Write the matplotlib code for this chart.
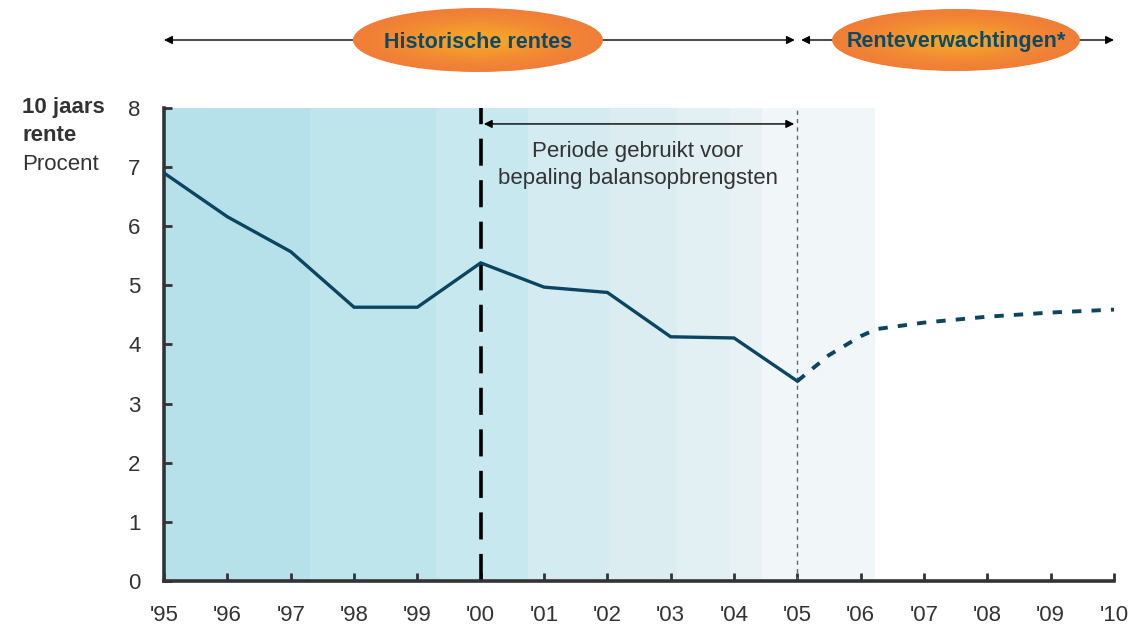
import numpy as np
import matplotlib.pyplot as plt
from matplotlib.patches import Ellipse

plt.rcParams['font.family'] = ['Liberation Sans', 'DejaVu Sans']

# historical 10-year rate, 1995..2005
hist_years = [1995, 1996, 1997, 1998, 1999, 2000, 2001, 2002, 2003, 2004, 2005]
hist_rate = [6.90, 6.16, 5.57, 4.63, 4.63, 5.38, 4.97, 4.88, 4.13, 4.11, 3.38]

# expected rate (dashed)
exp_years = [2005, 2005.5, 2006, 2006.25, 2007, 2008, 2009, 2010]
exp_rate = [3.38, 3.82, 4.14, 4.26, 4.37, 4.47, 4.54, 4.59]

# background bands (fading blue)
band_edges = [1995, 1997.31, 1999.29, 2000.75, 2002.04, 2003.10, 2003.94, 2004.44, 2006.23]
band_colors = ['#b6e1ea', '#bee4ec', '#c7e8ef', '#d3ebf1', '#dcedf2', '#e2eff3', '#e8f1f4', '#f1f7f8']

tick_years = list(range(1995, 2011))
tick_labels = ["'%02d" % (y % 100) for y in tick_years]

line_color = '#0b4560'
text_color = '#333333'

fig = plt.figure(figsize=(11.29, 6.27), dpi=100)
ax = fig.add_axes([0.1453, 0.0734, 0.8414, 0.7544])

for i, c in enumerate(band_colors):
    ax.axvspan(band_edges[i], band_edges[i + 1], ymin=0, ymax=1, color=c, lw=0, zorder=0)

ax.axvline(2000, color='black', lw=2.6, linestyle=(0, (7.5, 4)), zorder=2)
ax.axvline(2005, color='#666666', lw=1.0, linestyle=(0, (3, 3)), zorder=2)

ax.plot(hist_years, hist_rate, color=line_color, lw=2.4, zorder=3, solid_joinstyle='miter')
ax.plot(exp_years, exp_rate, color=line_color, lw=2.8, linestyle=(0, (2.4, 2.6)), zorder=3)

# period arrow
ax.annotate('', xy=(2000.05, 7.73), xytext=(2004.95, 7.73),
            arrowprops=dict(arrowstyle='<|-|>', color='black', lw=1.0,
                            mutation_scale=12, shrinkA=0, shrinkB=0))
ax.text(2002.48, 7.03, 'Periode gebruikt voor\nbepaling balansopbrengsten',
        ha='center', va='center', fontsize=16, color=text_color, linespacing=1.38)

ax.set_xlim(1995, 2010)
ax.set_ylim(0, 8)
ax.set_xticks(tick_years)
ax.set_xticklabels(tick_labels)
ax.set_yticks(range(0, 9))
ax.tick_params(axis='both', direction='in', length=6, width=2, color='#333333',
               labelsize=16, labelcolor=text_color)
ax.tick_params(axis='x', pad=17)
ax.tick_params(axis='y', pad=17)
for s in ['top', 'right']:
    ax.spines[s].set_visible(False)
for s in ['left', 'bottom']:
    ax.spines[s].set_linewidth(2.6)
    ax.spines[s].set_color('#333333')
ax.patch.set_alpha(0)

# y-axis title
fig.text(22 / 1129, 1 - 108 / 627, '10 jaars', ha='left', va='center',
         fontsize=16, fontweight='bold', color=text_color)
fig.text(22 / 1129, 1 - 136 / 627, 'rente', ha='left', va='center',
         fontsize=16, fontweight='bold', color=text_color)
fig.text(22 / 1129, 1 - 164 / 627, 'Procent', ha='left', va='center',
         fontsize=16, color=text_color)

# header arrows and ellipses
top_y = 1 - 40 / 627
for x0, x1 in [(1995, 2004.96), (2005.06, 2010)]:
    ax.annotate('', xy=(x0, top_y), xytext=(x1, top_y),
                xycoords=('data', 'figure fraction'), textcoords=('data', 'figure fraction'),
                annotation_clip=False,
                arrowprops=dict(arrowstyle='<|-|>', color='black', lw=1.0,
                                mutation_scale=12, shrinkA=0, shrinkB=0))


def badge(cx_px, w_px, h_px, label):
    cx = cx_px / 1129
    w = w_px / 1129
    h = h_px / 627
    n = 14
    c0 = np.array([0xf0, 0x7e, 0x37]) / 255
    c1 = np.array([0xf6, 0xa2, 0x2a]) / 255
    for k in range(n):
        t = k / (n - 1)
        f = 1 - 0.75 * t
        c = c0 + (c1 - c0) * t ** 1.4
        fig.patches.append(Ellipse((cx, top_y), w * f, h * f, transform=fig.transFigure,
                                   facecolor=c, edgecolor='none', zorder=5))
    fig.text(cx, top_y - 2 / 627, label, ha='center', va='center', fontsize=15.5,
             fontweight='bold', color='#0d4a66', zorder=6)


badge(478, 250, 64, 'Historische rentes')
badge(956, 248, 62, 'Renteverwachtingen*')

fig.savefig('out.png', dpi=100)
